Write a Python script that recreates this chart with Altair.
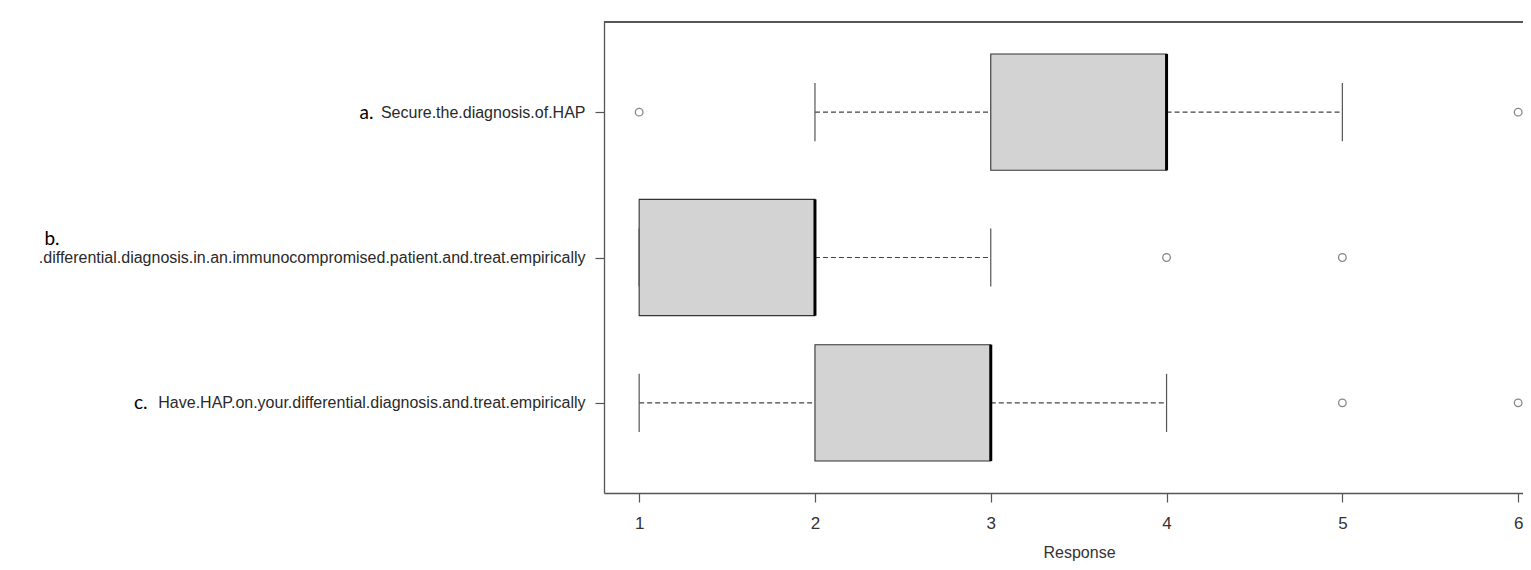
import json
import altair as alt
import pandas as pd

# ---- data ----
categories = [
    "Secure.the.diagnosis.of.HAP",
    ".differential.diagnosis.in.an.immunocompromised.patient.and.treat.empirically",
    "Have.HAP.on.your.differential.diagnosis.and.treat.empirically",
]
prefixes = ["a.", "b.", "c."]
positions = [1, 2, 3]
whisker_low = [2, 1, 1]
q1 = [3, 1, 2]
median = [4, 2, 3]
q3 = [4, 2, 3]
whisker_high = [5, 3, 4]
outlier_group = [1, 1, 2, 2, 3, 3]
outlier_value = [1, 6, 4, 5, 5, 6]
x_ticks = [1, 2, 3, 4, 5, 6]

BOX_HALF = 0.4   # R boxwex 0.8
CAP_HALF = 0.2   # R staplewex 0.5

W, H = 919, 471
PX_PER_UNIT = 175.8
X_MIN = 0.8
X_MAX = X_MIN + W / PX_PER_UNIT

boxes = pd.DataFrame({
    "pos": positions, "cat": categories, "prefix": prefixes,
    "wlo": whisker_low, "q1": q1, "med": median, "q3": q3, "whi": whisker_high,
})
boxes["lo"] = boxes["pos"] - BOX_HALF
boxes["hi"] = boxes["pos"] + BOX_HALF

seg = pd.concat([
    pd.DataFrame({"pos": boxes["pos"], "a": boxes["wlo"], "b": boxes["q1"]}),
    pd.DataFrame({"pos": boxes["pos"], "a": boxes["q3"], "b": boxes["whi"]}),
], ignore_index=True)

caps = pd.concat([
    pd.DataFrame({"pos": boxes["pos"], "v": boxes["wlo"]}),
    pd.DataFrame({"pos": boxes["pos"], "v": boxes["whi"]}),
], ignore_index=True)
caps["lo"] = caps["pos"] - CAP_HALF
caps["hi"] = caps["pos"] + CAP_HALF

outl = pd.DataFrame({"pos": outlier_group, "v": outlier_value})

xs = alt.Scale(domain=[X_MIN, X_MAX], nice=False, zero=False)
ys = alt.Scale(domain=[0.38, 3.62], reverse=True, nice=False, zero=False)

FRAME = "#555555"

x_axis = alt.Axis(
    values=x_ticks, format="d", title="Response", grid=False, domainColor=FRAME,
    domainWidth=1.3, tickColor=FRAME, tickSize=9, tickWidth=1.2,
    labelFont="Liberation Sans", labelFontSize=17, labelColor="#333333", labelPadding=13,
    titleFont="Liberation Sans", titleFontSize=16, titleFontWeight="normal",
    titleColor="#333333", titleX=475, titleY=64, titleAlign="center",
    titleBaseline="alphabetic",
)

main_y_axis = alt.Axis(
    values=positions, orient="left", grid=False, title=None,
    labelExpr=json.dumps(categories) + "[datum.value-1]",
    labelFont="Liberation Sans", labelFontSize=16, labelColor="#2a2a2a",
    labelPadding=10, tickSize=9, tickColor=FRAME, tickWidth=1.2,
    domainColor=FRAME, domainWidth=1.3, labelLimit=1000,
)

prefix_axis = alt.Axis(
    values=positions, orient="left", grid=False, title=None, domain=False,
    ticks=False, labelExpr=json.dumps(prefixes) + "[datum.value-1]",
    labelFont="Lato", labelFontSize=19, labelColor="#000000", labelLimit=1000,
    labelPadding={"condition": [
        {"test": "datum.value == 1", "value": 231},
        {"test": "datum.value == 2", "value": 545},
    ], "value": 457},
    labelOffset={"condition": {"test": "datum.value == 2", "value": -19}, "value": 0},
)

box = alt.Chart(boxes).mark_rect(fill="#d3d3d3", stroke="#333333", strokeWidth=1.1).encode(
    x=alt.X("q1:Q", scale=xs, axis=x_axis),
    x2="q3:Q",
    y=alt.Y("lo:Q", scale=ys, axis=main_y_axis),
    y2="hi:Q",
)

whisk = alt.Chart(seg).mark_rule(color="#444444", strokeDash=[5, 3], strokeWidth=1.2).encode(
    x=alt.X("a:Q", scale=xs), x2="b:Q",
    y=alt.Y("pos:Q", scale=ys, axis=None),
)

cap = alt.Chart(caps).mark_rule(color=FRAME, strokeWidth=1.2).encode(
    x=alt.X("v:Q", scale=xs),
    y=alt.Y("lo:Q", scale=ys, axis=None), y2="hi:Q",
)

med = alt.Chart(boxes).mark_rule(color="#000000", strokeWidth=3).encode(
    x=alt.X("med:Q", scale=xs),
    y=alt.Y("lo:Q", scale=ys, axis=None), y2="hi:Q",
)

pts = alt.Chart(outl).mark_point(shape="circle", filled=False, color="#555555", size=58, strokeWidth=1.3).encode(
    x=alt.X("v:Q", scale=xs),
    y=alt.Y("pos:Q", scale=ys, axis=None),
)

pref = alt.Chart(boxes).mark_point(opacity=0).encode(
    y=alt.Y("pos:Q", scale=ys, axis=prefix_axis),
)

top = alt.Chart(boxes).mark_rule(color=FRAME, strokeWidth=1.3).encode(
    x=alt.value(0), x2=alt.value(W), y=alt.value(0),
)

chart = alt.layer(whisk, cap, box, med, pts, pref, top).resolve_axis(y="independent").properties(
    width=W, height=H,
    autosize=alt.AutoSizeParams(type="none"),
    padding={"left": 596, "top": 14, "right": 0, "bottom": 69},
).configure_view(stroke=None)

chart.save("out.html", embed_options={"renderer": "svg", "actions": False})
